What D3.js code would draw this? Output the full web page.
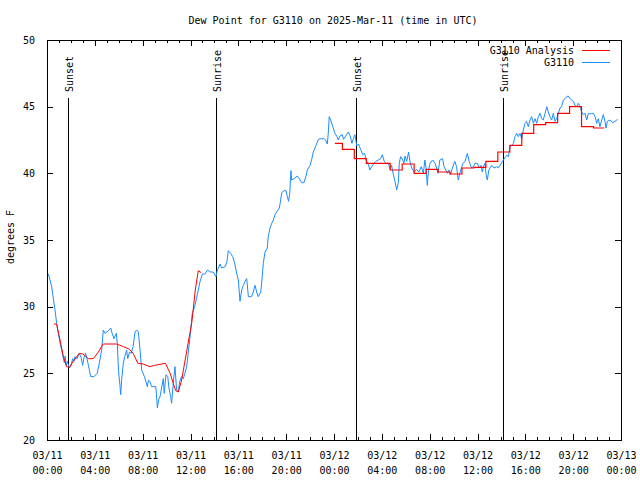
<!DOCTYPE html>
<html><head><meta charset="utf-8">
<script src="https://cdn.jsdelivr.net/npm/d3@7"></script>
<style>
body{margin:0;background:#fff}
text{font-family:"DejaVu Sans Mono","Liberation Mono",monospace;font-size:10px;fill:#000}
</style>
</head><body>
<svg id="c" width="640" height="480"></svg>
<script>
// ---------- data ----------
const title = "Dew Point for G3110 on 2025-Mar-11 (time in UTC)";
const yLabel = "degrees F";
const seriesNames = ["G3110 Analysis", "G3110"];
const startUTC = Date.UTC(2025, 2, 11, 0, 0);
const endUTC = Date.UTC(2025, 2, 13, 0, 0);
const yTicks = [20, 25, 30, 35, 40, 45, 50];
const sunEvents = ["Sunset", "Sunrise", "Sunset", "Sunrise"];
const sunHours = [1.75, 14.13, 25.84, 38.13];

// observations (hours after 03/11 00:00 UTC, deg F)
const obsHours = [0.11,0.25,0.39,0.53,0.67,0.81,0.95,1.09,1.23,1.37,1.45,1.52,1.6,1.7,1.87,1.98,2.15,2.25,2.34,2.5,2.7,2.85,2.98,3.1,3.23,3.37,3.54,3.65,3.93,4.2,4.37,4.57,4.71,4.85,4.99,5.15,5.33,5.45,5.6,5.7,5.8,5.88,5.98,6.1,6.16,6.25,6.38,6.5,6.66,6.75,6.9,7.05,7.2,7.36,7.5,7.64,7.78,7.92,8.15,8.39,8.48,8.6,8.75,9.1,9.23,9.33,9.45,9.6,9.73,9.8,9.95,10.1,10.2,10.34,10.42,10.56,10.7,10.84,10.98,11.1,11.26,11.4,11.5,11.68,11.96,12.15,12.35,12.5,12.8,13.0,13.2,13.43,13.65,13.9,14.13,14.25,14.47,14.6,14.9,15.05,15.16,15.35,15.53,15.7,15.86,16.0,16.14,16.28,16.42,16.56,16.7,16.84,17.1,17.25,17.4,17.53,17.67,17.87,17.95,18.09,18.23,18.42,18.5,18.65,18.79,18.93,19.07,19.2,19.43,19.54,19.63,19.82,19.98,20.1,20.2,20.3,20.4,20.46,20.65,20.93,21.1,21.3,21.48,21.66,21.77,22.0,22.15,22.27,22.5,22.69,22.97,23.15,23.3,23.44,23.52,23.6,23.72,23.9,24.08,24.25,24.36,24.5,24.69,24.8,24.98,25.2,25.35,25.5,25.62,25.75,25.9,26.05,26.23,26.4,26.55,26.73,26.85,27.0,27.15,27.34,27.5,27.7,27.9,28.04,28.2,28.37,28.54,28.7,28.82,28.96,29.1,29.24,29.38,29.46,29.57,29.75,29.85,29.94,30.08,30.24,30.35,30.5,30.7,30.9,31.1,31.3,31.47,31.6,31.7,31.8,31.9,32.03,32.25,32.45,32.58,32.7,32.85,33.08,33.2,33.35,33.48,33.62,33.75,33.9,34.1,34.25,34.39,34.5,34.6,34.78,34.96,35.15,35.3,35.5,35.65,35.8,36.0,36.15,36.3,36.4,36.5,36.63,36.72,36.82,36.95,37.05,37.19,37.38,37.61,37.74,37.88,38.16,38.44,38.58,38.72,38.86,39.0,39.14,39.28,39.41,39.55,39.7,39.83,39.97,40.11,40.25,40.39,40.53,40.67,40.81,40.95,41.09,41.23,41.37,41.5,41.65,41.79,41.92,42.06,42.2,42.34,42.48,42.62,42.76,42.9,43.04,43.18,43.32,43.46,43.59,43.74,43.88,44.01,44.15,44.3,44.43,44.57,44.71,44.85,44.99,45.13,45.27,45.41,45.55,45.68,45.83,45.97,46.1,46.24,46.39,46.52,46.66,46.75,46.86,47.08,47.31,47.5,47.72];
const obsValues = [32.45,32.0,31.5,30.6,29.75,28.75,28.0,27.25,26.75,26.1,25.8,26.3,25.6,25.9,25.4,25.5,26.1,25.9,26.25,26.1,26.5,26.2,25.6,26.2,26.5,26.0,25.25,24.75,24.75,25.0,25.75,26.75,28.25,28.0,28.1,28.2,28.4,28.0,27.6,27.8,28.0,27.2,25.2,24.1,23.4,24.6,25.75,26.25,26.75,26.1,26.6,26.5,27.0,28.1,28.25,28.1,26.75,25.25,24.75,24.0,24.5,24.4,24.0,24.0,22.4,23.0,23.25,24.0,24.6,23.5,24.9,24.75,23.9,23.25,22.75,24.25,25.5,23.75,23.6,24.4,24.75,24.6,24.9,25.5,27.75,29.5,30.0,30.6,31.9,32.45,32.45,32.75,32.6,32.6,32.25,32.75,33.2,32.9,33.0,33.4,34.2,34.0,33.75,33.25,32.5,32.0,30.4,31.25,31.6,31.9,32.1,30.75,30.75,31.1,31.6,31.1,30.75,31.1,31.75,33.25,34.1,34.4,35.25,35.9,36.25,36.5,36.9,37.1,37.4,38.0,38.55,38.7,38.7,38.25,37.9,38.5,40.2,39.5,39.6,39.8,39.6,39.3,39.3,39.8,40.25,40.6,41.1,41.6,42.1,42.55,42.6,42.6,42.5,42.2,43.0,44.25,44.0,43.5,43.0,42.75,42.5,42.8,42.9,42.55,42.8,43.1,42.8,42.25,42.6,42.9,42.05,42.2,41.8,41.4,41.5,40.9,40.75,40.25,40.5,40.75,40.9,41.0,41.1,41.4,40.9,40.75,40.75,40.3,40.6,39.9,39.4,38.75,39.3,40.75,41.25,41.0,40.75,41.3,40.9,41.6,40.9,40.4,40.1,40.3,40.1,40.5,40.0,41.0,40.4,39.1,40.2,40.75,41.0,40.75,40.4,40.0,41.0,41.1,40.5,40.25,40.0,40.25,39.9,40.4,40.9,40.5,39.5,39.9,40.25,40.75,40.9,41.5,40.9,40.4,40.5,40.75,40.75,40.4,40.6,40.1,40.5,40.75,39.9,39.5,40.25,40.4,40.6,40.4,40.5,40.4,40.6,41.0,41.35,41.25,42.0,42.1,42.25,42.75,43.0,42.75,43.0,42.6,43.25,43.75,43.9,43.5,44.0,44.25,43.75,44.1,43.75,44.25,44.5,44.1,44.0,44.5,45.0,44.6,44.25,44.0,44.5,43.9,44.1,44.5,44.9,45.0,45.5,45.6,45.75,45.8,45.6,45.5,45.4,45.1,45.0,45.25,45.0,44.6,44.4,44.5,44.0,44.5,44.45,44.5,44.5,44.25,43.75,44.1,43.5,44.0,44.4,43.9,43.4,43.9,44.0,43.8,43.9,44.05];

// analysis, first day (continuous)
const anaAHours = [0.58,0.8,1.09,1.37,1.64,1.87,2.2,2.7,3.0,3.46,3.87,4.3,4.7,5.8,6.4,6.9,7.2,7.6,8.05,8.6,9.0,9.9,10.3,10.56,10.76,10.98,11.26,11.7,12.1,12.4,12.65,12.9];
const anaAValues = [28.7,28.7,27.5,26.25,25.5,25.45,25.9,26.5,26.45,26.1,26.1,26.6,27.2,27.2,27.0,26.8,26.5,25.75,25.7,25.5,25.6,25.75,25.0,24.25,23.7,23.6,24.5,26.75,28.75,31.25,32.7,32.55];
// analysis, second day (hourly steps)
const anaBHours = [24.08,24.7,25.7,26.7,27.7,28.7,29.7,30.7,31.7,32.7,33.7,34.7,35.7,36.7,37.7,38.7,39.7,40.7,41.7,42.7,43.7,44.7,45.7,46.6];
const anaBValues = [42.25,41.8,41.1,40.75,40.75,40.25,40.7,40.0,40.3,40.1,39.95,40.4,40.45,40.9,41.6,42.1,43.0,43.65,43.8,44.5,45.0,43.5,43.4,43.4];

// ---------- chart ----------
const svg = d3.select("#c");
const L = 47, R = 621, T = 40, B = 440;
const hr = h => new Date(startUTC + h * 3600e3);
const x = d3.scaleUtc().domain([new Date(startUTC), new Date(endUTC)]).range([L, R]);
const y = d3.scaleLinear().domain([20, 50]).range([B, T]);

const axes = svg.append("g").attr("shape-rendering", "crispEdges");
const fmtD = d3.utcFormat("%m/%d"), fmtT = d3.utcFormat("%H:%M");

// minor hourly ticks bottom/top
axes.append("g").attr("transform", `translate(0,${B})`)
  .call(d3.axisBottom(x).ticks(d3.utcHour.every(1)).tickSize(-3).tickFormat("").tickSizeOuter(0))
  .call(g => g.select(".domain").remove());
axes.append("g").attr("transform", `translate(0,${T})`)
  .call(d3.axisTop(x).ticks(d3.utcHour.every(1)).tickSize(-3).tickFormat("").tickSizeOuter(0))
  .call(g => g.select(".domain").remove());
// major ticks bottom with labels
const xb = axes.append("g").attr("transform", `translate(0,${B})`)
  .call(d3.axisBottom(x).ticks(d3.utcHour.every(4)).tickSize(-6).tickSizeOuter(0).tickFormat(""))
  .call(g => g.select(".domain").remove());
xb.selectAll(".tick").append("text")
  .attr("text-anchor", "middle").attr("fill", "#000")
  .each(function(d) {
    const t = d3.select(this);
    t.append("tspan").attr("x", 0).attr("y", 19).text(fmtD(d));
    t.append("tspan").attr("x", 0).attr("y", 34).text(fmtT(d));
  });
axes.append("g").attr("transform", `translate(0,${T})`)
  .call(d3.axisTop(x).ticks(d3.utcHour.every(4)).tickSize(-6).tickFormat("").tickSizeOuter(0))
  .call(g => g.select(".domain").remove());
// y axes
axes.append("g").attr("transform", `translate(${L},0)`)
  .call(d3.axisLeft(y).tickValues(yTicks).tickSize(-6).tickPadding(12).tickSizeOuter(0))
  .call(g => g.select(".domain").remove())
  .call(g => g.selectAll("text").attr("fill", "#000").style("font-size", "10px").style("font-family", "DejaVu Sans Mono"));
axes.append("g").attr("transform", `translate(${R},0)`)
  .call(d3.axisRight(y).tickValues(yTicks).tickSize(-6).tickFormat("").tickSizeOuter(0))
  .call(g => g.select(".domain").remove());
axes.selectAll(".tick line").attr("stroke", "#000");
// frame
axes.append("rect").attr("x", L).attr("y", T).attr("width", R - L).attr("height", B - T)
  .attr("fill", "none").attr("stroke", "#000");

// sun event lines
const sun = svg.append("g");
sunHours.forEach((h, i) => {
  const sx = Math.round(x(hr(h))) + 0.5;
  sun.append("line").attr("x1", sx).attr("x2", sx).attr("y1", 98).attr("y2", B)
    .attr("stroke", "#000").attr("stroke-width", 1);
  sun.append("text").attr("transform", `translate(${sx + 4},92) rotate(-90)`)
    .attr("text-anchor", "start").text(sunEvents[i]);
});

// data lines
const lineA = d3.line().x(d => x(hr(d[0]))).y(d => y(d[1]));
const plot = svg.append("g");
plot.append("path").datum(d3.zip(obsHours, obsValues))
  .attr("d", lineA).attr("fill", "none").attr("stroke", "#1a8cff").attr("stroke-width", 1);
plot.append("path").datum(d3.zip(anaAHours, anaAValues))
  .attr("d", lineA).attr("fill", "none").attr("stroke", "#ff0000").attr("stroke-width", 1);
plot.append("path").datum(d3.zip(anaBHours, anaBValues))
  .attr("d", d3.line().curve(d3.curveStepAfter).x(d => x(hr(d[0]))).y(d => y(d[1])))
  .attr("fill", "none").attr("stroke", "#ff0000").attr("stroke-width", 1.2);

// title and axis label
svg.append("text").attr("x", 333).attr("y", 24).attr("text-anchor", "middle").text(title);
svg.append("text").attr("transform", "translate(14,237) rotate(-90)").attr("text-anchor", "middle").text(yLabel);

// legend
const legColors = ["#ff0000", "#1a8cff"];
seriesNames.forEach((n, i) => {
  const ly = 50 + i * 12;
  svg.append("text").attr("x", 574).attr("y", ly + 4).attr("text-anchor", "end").text(n);
  svg.append("line").attr("x1", 582).attr("x2", 610).attr("y1", ly + 0.5).attr("y2", ly + 0.5)
    .attr("stroke", legColors[i]).attr("stroke-width", 1);
});
</script>
</body></html>
